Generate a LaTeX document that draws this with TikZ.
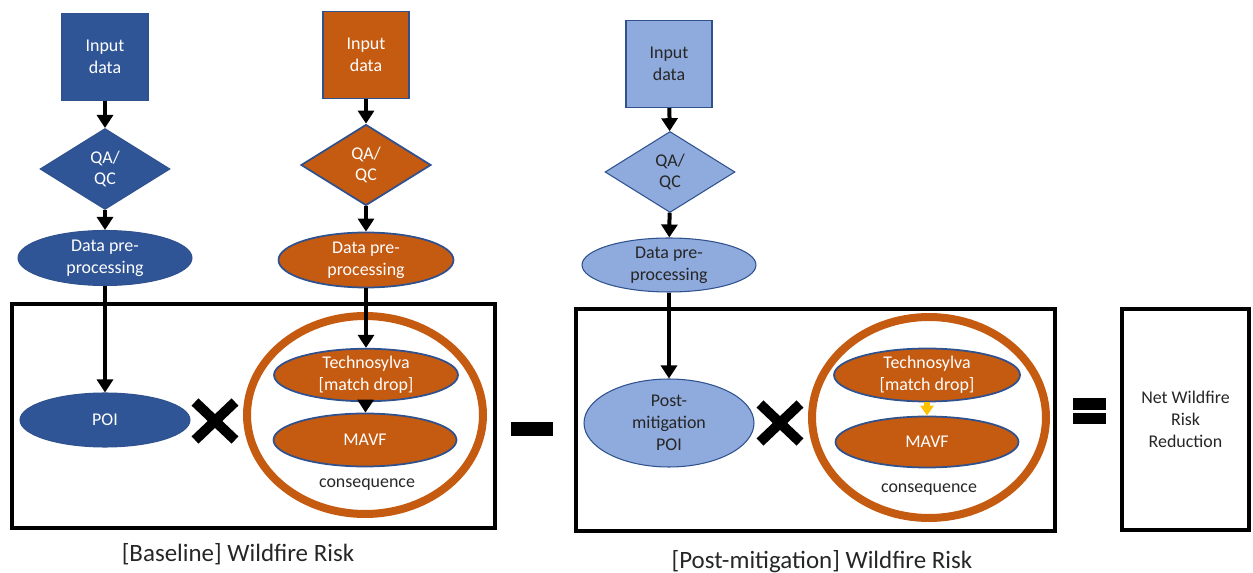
\documentclass[tikz,border=0pt]{standalone}
\usepackage{fontspec}
\setmainfont{Carlito}
\usetikzlibrary{shapes.geometric,shapes.misc,arrows.meta}
\definecolor{darkblue}{HTML}{2F5597}
\definecolor{edgeblue}{HTML}{2F528F}
\definecolor{burnt}{HTML}{C55A11}
\definecolor{paleblue}{HTML}{8FAADC}
\definecolor{amber}{HTML}{FFC000}
\begin{document}
\begin{tikzpicture}[x=0.02cm, y=-0.02cm, every node/.style={font=\fontsize{10.2}{12.4}\selectfont, align=center, inner sep=0pt}]
  \tikzstyle{inbox}=[draw=edgeblue,line width=0.6pt,minimum width=1.72cm,minimum height=1.74cm]
  \tikzstyle{qa}=[diamond,draw=edgeblue,line width=0.6pt,minimum width=2.6cm,minimum height=1.62cm]
  \tikzstyle{oval}=[ellipse,draw=edgeblue,line width=0.6pt]
  \tikzstyle{ring}=[ellipse,draw=burnt,line width=0.16cm]
  \tikzstyle{frame}=[draw,line width=0.08cm]
  \tikzstyle{flow}=[-{Triangle[width=0.32cm,length=0.26cm]},line width=0.08cm]
  \tikzstyle{times}=[cross out,draw,line width=0.2cm,minimum width=0.6cm,minimum height=0.56cm]
  \tikzstyle{bar}=[fill=black,inner sep=0pt]
  \tikzstyle{caption}=[font=\fontsize{14.2}{16}\selectfont,text=black!85]
  \useasboundingbox (0,0) rectangle (1253,573);

  \node[frame,minimum width=9.66cm,minimum height=4.48cm] (base) at (253.5,416) {};
  \node[frame,minimum width=9.58cm,minimum height=4.44cm] (post) at (815.5,420) {};
  \node[frame,minimum width=2.54cm,minimum height=4.42cm,text=black!85] (net) at (1185.5,419.5) {Net Wildfire\\Risk\\Reduction};

  \node[inbox,fill=darkblue,text=white] (in1) at (105,57) {Input\\data};
  \node[qa,fill=darkblue,text=white] (qa1) at (105,169) {QA/\\QC};
  \node[oval,fill=darkblue,text=white,minimum width=3.48cm,minimum height=1.1cm] (pre1) at (105,258) {Data pre-\\processing};
  \node[oval,fill=darkblue,text=white,minimum width=3.4cm,minimum height=1.08cm] (poi1) at (105,420) {POI};

  \node[inbox,fill=burnt,text=white,line width=1pt] (in2) at (366,55) {Input\\data};
  \node[qa,fill=burnt,text=white,line width=1pt] (qa2) at (366,165) {QA/\\QC};
  \node[oval,fill=burnt,text=white,line width=1pt,minimum width=3.5cm,minimum height=1.1cm] (pre2) at (366,260) {Data pre-\\processing};
  \node[ring,minimum width=4.72cm,minimum height=3.96cm] (ring1) at (365,415) {};
  \node[oval,fill=burnt,text=white,line width=1pt,minimum width=3.68cm,minimum height=1.0cm] (tech1) at (366,375) {Technosylva\\{[match drop]}};
  \node[oval,fill=burnt,text=white,line width=1pt,minimum width=3.66cm,minimum height=1.06cm] (mavf1) at (365,440) {MAVF};
  \node[text=black!85] (cons1) at (367,485) {consequence};

  \node[inbox,fill=paleblue,text=black!85] (in3) at (669,64) {Input\\data};
  \node[qa,fill=paleblue,text=black!85] (qa3) at (670,172) {QA/\\QC};
  \node[oval,fill=paleblue,text=black!85,minimum width=3.48cm,minimum height=1.08cm] (pre3) at (669,265) {Data pre-\\processing};
  \node[oval,fill=paleblue,text=black!85,minimum width=3.4cm,minimum height=1.76cm] (poi3) at (669,423) {Post-\\mitigation\\POI};
  \node[ring,minimum width=4.68cm,minimum height=4.02cm] (ring2) at (929,417.5) {};
  \node[oval,fill=burnt,text=white,line width=1pt,minimum width=3.72cm,minimum height=1.06cm] (tech2) at (927,375) {Technosylva\\{[match drop]}};
  \node[oval,fill=burnt,text=white,line width=1pt,minimum width=3.66cm,minimum height=1.02cm] (mavf2) at (927,442) {MAVF};
  \node[text=black!85] (cons2) at (929,490) {consequence};

  \node[times] (x1) at (215,421) {};
  \node[times] (x2) at (780,423) {};
  \node[bar,minimum width=0.84cm,minimum height=0.28cm] (minus) at (532,429) {};
  \node[bar,minimum width=0.66cm,minimum height=0.24cm] (eqtop) at (1089.5,404) {};
  \node[bar,minimum width=0.66cm,minimum height=0.22cm] (eqbot) at (1089.5,418.5) {};

  \draw[flow] (in1) -- (qa1);
  \draw[flow] (qa1) -- (pre1);
  \draw[flow] (pre1) -- (poi1);
  \draw[flow] (in2) -- (qa2);
  \draw[flow] (qa2) -- (pre2);
  \draw[flow] (pre2) -- (tech1);
  \draw[flow] (tech1) -- (mavf1);
  \draw[flow] (in3) -- (qa3);
  \draw[flow] (qa3) -- (pre3);
  \draw[flow] (pre3) -- (poi3);
  \draw[-{Triangle[width=0.26cm,length=0.2cm]},amber,line width=0.11cm] (tech2) -- (mavf2);

  \node[caption] (cap1) at (238,554) {[Baseline] Wildfire Risk};
  \node[caption] (cap2) at (822,562) {[Post-mitigation] Wildfire Risk};
\end{tikzpicture}
\end{document}
